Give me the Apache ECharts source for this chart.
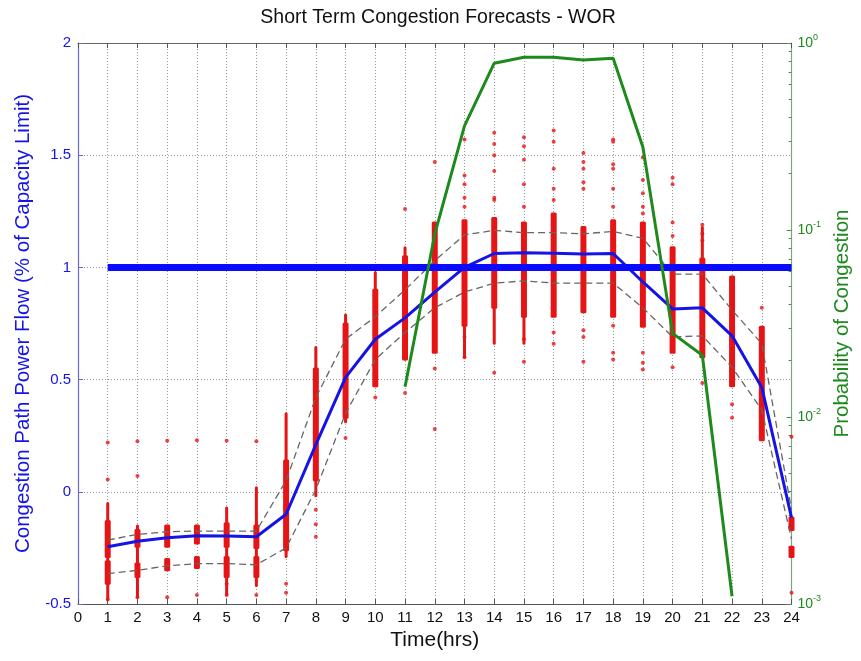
<!DOCTYPE html>
<html>
<head>
<meta charset="utf-8">
<script src="https://cdn.jsdelivr.net/npm/echarts@6/dist/echarts.min.js"></script>
<style>html,body{margin:0;padding:0;background:#fff}#c{width:861px;height:661px}</style>
</head>
<body>
<div id="c"></div>
<script>
// ---- data ----
const hours = [1,2,3,4,5,6,7,8,9,10,11,12,13,14,15,16,17,18,19,20,21,22,23,24];
const meanFlow = [-0.245,-0.22,-0.205,-0.196,-0.197,-0.2,-0.1,0.21,0.51,0.68,0.775,0.89,1.0,1.062,1.065,1.063,1.06,1.062,0.935,0.815,0.82,0.695,0.465,-0.115];
const upperBand = [-0.215,-0.19,-0.178,-0.175,-0.175,-0.175,0.05,0.42,0.68,0.78,0.9,1.03,1.145,1.165,1.155,1.155,1.15,1.16,1.13,0.97,0.97,0.81,0.66,-0.08];
const lowerBand = [-0.365,-0.35,-0.33,-0.32,-0.32,-0.325,-0.25,0.01,0.35,0.59,0.71,0.82,0.89,0.93,0.94,0.93,0.93,0.93,0.82,0.69,0.695,0.555,0.365,-0.21];
const probHours = [11,12,13,14,15,16,17,18,19,20,21,22];
const probCongestion = [0.0145,0.095,0.36,0.78,0.84,0.84,0.81,0.83,0.278,0.028,0.0214,0.0011];
const limitHours = [1,24];
const limitValue = 1;
// dense sample clusters: [hour, low, high]
const denseClusters = [
  [1,-0.29,-0.13],[1,-0.41,-0.31],[2,-0.245,-0.17],[2,-0.38,-0.32],[3,-0.245,-0.15],[3,-0.35,-0.30],
  [4,-0.23,-0.15],[4,-0.34,-0.29],[5,-0.245,-0.14],[5,-0.38,-0.29],[6,-0.25,-0.15],[6,-0.38,-0.29],
  [7,-0.26,0.14],[8,0.05,0.55],[9,0.33,0.75],[10,0.47,0.9],[11,0.59,1.05],[12,0.62,1.2],[13,0.74,1.21],
  [14,0.82,1.22],[15,0.78,1.2],[16,0.78,1.24],[17,0.8,1.18],[18,0.78,1.21],[19,0.735,1.2],[20,0.62,1.09],
  [21,0.6,1.04],[22,0.47,0.96],[23,0.23,0.735],[24,-0.17,-0.115],[24,-0.29,-0.245]
];
// sparse sample clusters: [hour, low, high]
const sparseClusters = [
  [1,-0.48,-0.05],[2,-0.47,-0.15],[5,-0.46,-0.07],[6,-0.42,0.02],[7,-0.29,0.35],[8,-0.02,0.645],
  [9,0.31,0.79],[10,0.47,0.98],[11,0.59,1.09],[13,0.6,0.74],[14,0.66,0.82],[15,0.66,0.78],[21,1.04,1.18]
];
// isolated samples: [hour, value]
const outlierSamples = [
  [1,0.22],[1,0.055],[1,-0.48],[2,0.225],[2,0.07],[2,-0.47],[3,0.228],[3,-0.47],[4,0.23],[4,-0.46],
  [5,0.228],[5,-0.46],[5,-0.41],[6,0.225],[6,-0.46],[7,-0.41],[7,-0.45],[8,-0.08],[8,-0.145],[8,-0.2],
  [9,0.24],[10,0.42],[11,1.26],[11,0.44],[12,1.47],[12,0.55],[12,0.28],
  [13,1.57],[13,1.41],[13,1.37],[13,1.31],[13,1.27],[13,0.69],[13,0.6],
  [14,1.6],[14,1.55],[14,1.5],[14,1.43],[14,1.31],[14,1.3],[14,0.53],
  [15,1.58],[15,1.54],[15,1.48],[15,1.37],[15,1.27],[15,0.68],[15,0.58],
  [16,1.61],[16,1.56],[16,1.44],[16,1.35],[16,1.3],[16,0.71],[16,0.66],
  [17,1.51],[17,1.47],[17,1.44],[17,1.38],[17,1.35],[17,0.72],[17,0.69],[17,0.58],
  [18,1.57],[18,1.56],[18,1.46],[18,1.44],[18,1.35],[18,1.27],[18,0.74],[18,0.62],[18,0.59],
  [19,1.49],[19,1.39],[19,1.33],[19,1.27],[19,1.24],[19,0.62],[19,0.575],[19,0.545],
  [20,1.4],[20,1.37],[20,1.2],[20,1.14],[20,0.555],[21,1.19],[21,1.15],[21,1.12],[21,0.485],
  [22,0.39],[22,0.33],[23,0.82],[24,0.245],[24,-0.45]
];
const xTicks = [0,1,2,3,4,5,6,7,8,9,10,11,12,13,14,15,16,17,18,19,20,21,22,23,24];

// ---- chart ----
const FONT = '"Liberation Sans", Arial, Helvetica, sans-serif';
const BLUE = '#1414e6';
const GREEN = '#1e8a1e';
const RED = '#e61414';
const chart = echarts.init(document.getElementById('c'), null, {renderer: 'canvas'});

function clusterRender(width) {
  return function (params, api) {
    const x = api.value(0);
    const p1 = api.coord([x, api.value(1)]);
    const p2 = api.coord([x, api.value(2)]);
    return {
      type: 'rect',
      shape: {x: p1[0] - width / 2, y: p2[1] - 1, width: width, height: Math.max(2, p1[1] - p2[1] + 2), r: 1.5},
      style: {fill: RED}
    };
  };
}

chart.setOption({
  animation: false,
  title: {
    text: 'Short Term Congestion Forecasts - WOR',
    left: 433, top: 3, textAlign: 'center',
    textStyle: {fontFamily: FONT, fontSize: 19.5, fontWeight: 'normal', color: '#111'}
  },
  grid: {left: 78, right: 69, top: 43, bottom: 57},
  xAxis: [{
    type: 'value', min: 0, max: 24, interval: 1,
    name: 'Time(hrs)', nameLocation: 'middle', nameGap: 26,
    nameTextStyle: {fontFamily: FONT, fontSize: 21, color: '#111'},
    axisLine: {show: true, onZero: false, lineStyle: {color: '#555', width: 1}},
    axisTick: {show: true, inside: true, length: 5, lineStyle: {color: '#555'}},
    axisLabel: {fontFamily: FONT, fontSize: 15, color: '#111', margin: 6,
      formatter: v => String(xTicks[Math.round(v)])},
    splitLine: {show: true, lineStyle: {color: '#999', type: [1, 2], width: 1}}
  }, {
    type: 'value', min: 0, max: 24, interval: 1, position: 'top',
    axisLine: {show: true, onZero: false, lineStyle: {color: '#666', width: 1}},
    axisTick: {show: true, inside: true, length: 5, lineStyle: {color: '#555'}},
    axisLabel: {show: false}, splitLine: {show: false}
  }],
  yAxis: [{
    type: 'value', min: -0.5, max: 2, interval: 0.5,
    name: 'Congestion Path Power Flow (% of Capacity Limit)', nameLocation: 'middle', nameGap: 44,
    nameTextStyle: {fontFamily: FONT, fontSize: 20.5, color: BLUE},
    axisLine: {show: true, onZero: false, lineStyle: {color: '#6a6acc', width: 1.2}},
    axisTick: {show: true, inside: true, length: 5, lineStyle: {color: '#6a6acc'}},
    axisLabel: {fontFamily: FONT, fontSize: 15, color: BLUE, margin: 7,
      formatter: v => (Math.abs(v) < 1e-9 ? '0' : String(v))},
    splitLine: {show: true, lineStyle: {color: '#999', type: [1, 2], width: 1}}
  }, {
    type: 'log', logBase: 10, min: 0.001, max: 1, interval: 1,
    name: 'Probability of Congestion', nameLocation: 'middle', nameGap: 40,
    nameTextStyle: {fontFamily: FONT, fontSize: 20.5, color: GREEN},
    axisLine: {show: true, onZero: false, lineStyle: {color: '#7aa87a', width: 1.2}},
    axisTick: {show: true, inside: true, length: 5, lineStyle: {color: '#5a8a5a'}},
    minorTick: {show: true, splitNumber: 9, length: 3, lineStyle: {color: '#5a8a5a'}},
    axisLabel: {fontFamily: FONT, color: GREEN, margin: 6,
      formatter: function (v) {
        const e = Math.round(Math.log10(v));
        return '{b|10}{s|' + e + '}';
      },
      rich: {b: {fontFamily: FONT, fontSize: 14, color: GREEN}, s: {fontFamily: FONT, fontSize: 9, color: GREEN, verticalAlign: 'top', padding: [0,0,10,0]}}
    },
    splitLine: {show: false}
  }],
  series: [
    {type: 'custom', xAxisIndex: 0, yAxisIndex: 0, renderItem: clusterRender(3), data: sparseClusters, z: 2},
    {type: 'custom', xAxisIndex: 0, yAxisIndex: 0, renderItem: clusterRender(6), data: denseClusters, z: 2},
    {type: 'scatter', xAxisIndex: 0, yAxisIndex: 0, symbolSize: 4, itemStyle: {color: RED}, data: outlierSamples, z: 2},
    {type: 'line', xAxisIndex: 0, yAxisIndex: 0, data: hours.map((h, i) => [h, upperBand[i]]), symbol: 'none',
      lineStyle: {color: '#666', width: 1.3, type: [7, 4]}, z: 3},
    {type: 'line', xAxisIndex: 0, yAxisIndex: 0, data: hours.map((h, i) => [h, lowerBand[i]]), symbol: 'none',
      lineStyle: {color: '#666', width: 1.3, type: [7, 4]}, z: 3},
    {type: 'line', xAxisIndex: 0, yAxisIndex: 0, data: hours.map((h, i) => [h, meanFlow[i]]), symbol: 'none',
      lineStyle: {color: BLUE, width: 3}, z: 4},
    {type: 'line', xAxisIndex: 0, yAxisIndex: 0, data: limitHours.map(h => [h, limitValue]), symbol: 'none',
      lineStyle: {color: '#0a0aff', width: 7}, z: 5},
    {type: 'line', xAxisIndex: 0, yAxisIndex: 1, data: probHours.map((h, i) => [h, probCongestion[i]]), symbol: 'none',
      lineStyle: {color: GREEN, width: 3}, z: 6}
  ]
});
</script>
</body>
</html>
